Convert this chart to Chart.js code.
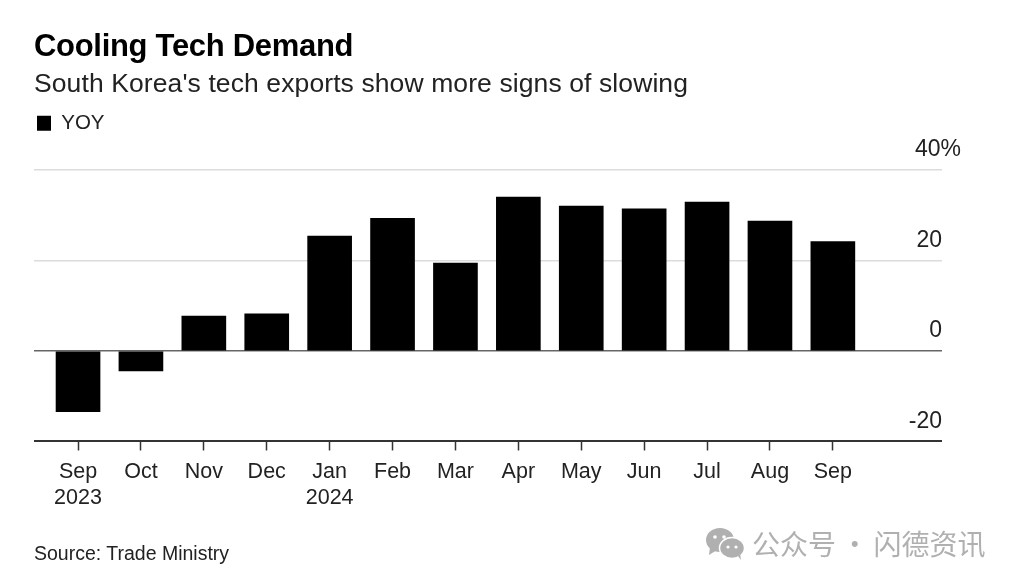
<!DOCTYPE html>
<html><head><meta charset="utf-8">
<script src="https://cdn.jsdelivr.net/npm/chart.js@4"></script>
<style>
html,body{margin:0;padding:0;background:#fff;overflow:hidden}
#wrap{position:relative;width:1018px;height:586px;font-family:"Liberation Sans",Arial,sans-serif;color:#111}
canvas{position:absolute;left:0;top:0}
.t{position:absolute;white-space:nowrap;line-height:1}
#title{left:34px;top:30px;font-size:31px;font-weight:bold;letter-spacing:-.3px;color:#000}
#sub{left:34px;top:70px;font-size:26.5px;letter-spacing:.1px;color:#222}
#src{left:34px;top:544px;font-size:19.5px;color:#222}
#wm{left:752px;top:529px;font-size:28px;word-spacing:-1.5px;color:#b0b0b0;font-family:"Noto Sans CJK SC"}
#ic{position:absolute;left:705px;top:527px}
</style></head><body>
<div id="wrap">
<canvas id="c" width="1018" height="586"></canvas>
<div class="t" id="title">Cooling Tech Demand</div>
<div class="t" id="sub">South Korea's tech exports show more signs of slowing</div>
<div class="t" id="src">Source: Trade Ministry</div>
<svg id="ic" width="40" height="34" viewBox="0 0 40 34"><ellipse cx="15" cy="13" rx="14" ry="12" fill="#b0b0b0"/><path d="M5 20 L4 28 L12 23Z" fill="#b0b0b0"/><ellipse cx="27" cy="21" rx="12.5" ry="10.5" fill="#b0b0b0" stroke="#fff" stroke-width="1.5"/><path d="M33 29 L36 33 L35 26Z" fill="#b0b0b0"/><circle cx="10" cy="10" r="1.8" fill="#fff"/><circle cx="19" cy="10" r="1.8" fill="#fff"/><circle cx="23" cy="20" r="1.6" fill="#fff"/><circle cx="31" cy="20" r="1.6" fill="#fff"/></svg>
<div class="t" id="wm">公众号 · 闪德资讯</div>
</div>
<script>
const months = ['Sep','Oct','Nov','Dec','Jan','Feb','Mar','Apr','May','Jun','Jul','Aug','Sep'];
const years = ['2023','','','','2024','','','','','','','',''];
const yoy = [-13.4,-4.4,7.7,8.2,25.4,29.3,19.4,34.0,32.0,31.4,32.9,28.7,24.2];
const yTicks = [-20,0,20,40];
const seriesName = 'YOY';

const legendSpace = {id:'legendSpace',beforeInit(chart){
  const fit = chart.legend.fit;
  chart.legend.fit = function(){fit.call(this);this.height += 26.5;};
}};
const shift40 = {id:'shift40',beforeDraw(chart){
  const s = chart.scales.y;
  s.getLabelItems().forEach(it=>{
    if(it.label==='40%' && !it._moved){it.options.translation[0]+=19;it._moved=true;}
  });
}};
new Chart(document.getElementById('c'),{
  type:'bar',
  data:{datasets:[{label:seriesName,
    data:yoy.map((v,i)=>({x:i,y:v})),
    backgroundColor:'#000',borderWidth:0,barThickness:44}]},
  plugins:[legendSpace,shift40],
  options:{
    responsive:false,animation:false,
    layout:{padding:{left:34,right:76,top:110,bottom:65.5}},
    plugins:{
      tooltip:{enabled:false},
      legend:{position:'top',align:'start',
        labels:{boxWidth:14,boxHeight:15,padding:3,color:'#222',
          font:{family:'"Liberation Sans"',size:20.5}}}
    },
    scales:{
      x:{type:'linear',offset:false,min:-0.7,max:13.735,
        afterBuildTicks(a){a.ticks=months.map((m,i)=>({value:i}));},
        grid:{offset:false,drawOnChartArea:false,drawTicks:true,tickLength:9,tickColor:'#333',tickWidth:1.5},
        border:{display:false},
        ticks:{autoSkip:false,maxRotation:0,padding:9,color:'#222',
          font:{family:'"Liberation Sans"',size:21.5,lineHeight:1.21},
          callback(v){const i=Math.round(v);return years[i]?[months[i],years[i]]:months[i];}}
      },
      y:{position:'right',min:-20,max:40,
        afterBuildTicks(a){a.ticks=yTicks.map(v=>({value:v}));},
        border:{display:false},
        grid:{drawTicks:false,
          color(c){const v=c.tick.value;return v===-20?'#333':v===0?'#666':'#dcdcdc';},
          lineWidth(c){const v=c.tick.value;return v===-20?2:1.5;}},
        ticks:{mirror:true,padding:0,labelOffset:-20,color:'#222',
          font:{family:'"Liberation Sans"',size:23},
          callback(v){return v===40?'40%':String(v);}}
      }
    }
  }
});
</script>
</body></html>
